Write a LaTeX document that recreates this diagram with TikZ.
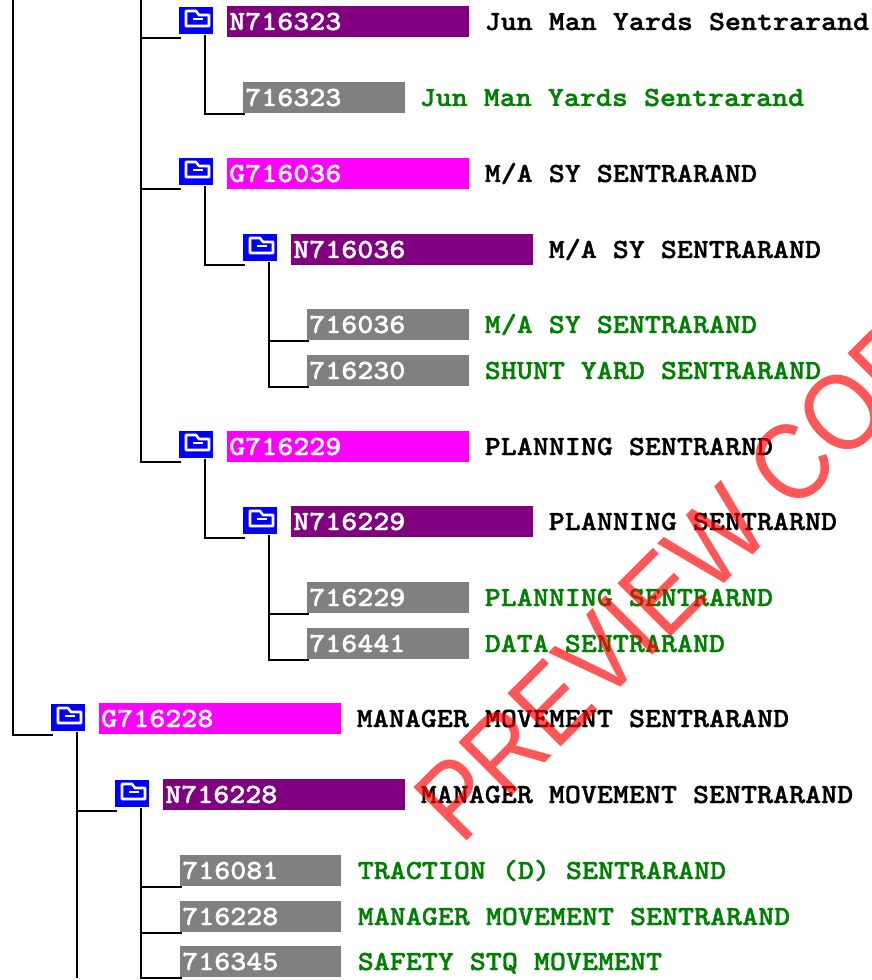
\documentclass[tikz,border=0pt]{standalone}
\usepackage{fontspec}
\setmainfont{Liberation Sans}
\newfontfamily\labelfont{lmmonolt10-bold.otf}[FakeStretch=1.1,FakeBold=1.2]
\definecolor{pur}{HTML}{800080}
\definecolor{mag}{HTML}{FF00FF}
\definecolor{gre}{HTML}{808080}
\definecolor{grn}{HTML}{008000}
\definecolor{blu}{HTML}{0000FF}
\tikzset{
  x=0.75pt,y=-0.75pt,
  barbox/.style={anchor=north west,inner sep=0pt,outer sep=0pt,minimum height=23.25pt,draw=none},
  idtext/.style={anchor=base west,inner sep=0pt,text=white,font=\labelfont\fontsize{20.8}{24}\selectfont},
  nametext/.style={anchor=base west,inner sep=0pt,font=\labelfont\fontsize{20.8}{24}\selectfont},
  conn/.style={draw=black,line width=1.5pt,line cap=rect},
  iconbox/.style={anchor=north west,fill=blu,inner sep=0pt,outer sep=0pt,minimum width=25.5pt,minimum height=20.25pt},
}
% name, x, y(top), width px, colour, id text, name colour, name x, name text
\newcommand{\rowbar}[9]{%
  \node[barbox,fill=#5,minimum width=#4*0.75pt] (#1) at (#2,#3) {};
  \node[idtext] (#1t) at (#2+2,#3+24) {#6};
  \node[nametext,text=#7] (#1n) at (#8-0.5,#3+24) {#9};
}
\newcommand{\fold}[3]{%
  \node[iconbox] (#1) at (#2,#3) {};
  \begin{scope}[shift={(#2,#3)}]
    \draw[white,line width=1.9pt,line join=round] (7,17) -- (7,4) -- (17,4) -- (20,8) -- (30,8) -- (30,19) -- (7,19) -- cycle;
    \draw[white,line width=2pt] (14,12) -- (24,12);
  \end{scope}
}
\newcommand{\vstart}[1]{([xshift=6.75pt,yshift=-1.5pt]#1.south)}
\newcommand{\stubF}[1]{([xshift=0.75pt,yshift=-3pt]#1.south west)}
\newcommand{\stubB}[1]{([xshift=0.75pt,yshift=-0.75pt]#1.south west)}
\begin{document}
\begin{tikzpicture}
\useasboundingbox (0,0) rectangle (871,980);
\fill[white] (0,0) rectangle (871,980);
\coordinate (top0) at (13,0);
\coordinate (top1) at (141,0);
\coordinate (bot77) at (77,977);

\fold{f1}{179}{7}
\rowbar{a1}{227}{6}{242}{pur}{N716323}{black}{485}{Jun Man Yards Sentrarand}
\rowbar{a2}{243}{82}{162}{gre}{716323}{grn}{420}{Jun Man Yards Sentrarand}
\fold{f2}{179}{158}
\rowbar{b1}{227}{158}{242}{mag}{G716036}{black}{485}{M/A SY SENTRARAND}
\fold{f3}{243}{234}
\rowbar{b2}{291}{234}{242}{pur}{N716036}{black}{549}{M/A SY SENTRARAND}
\rowbar{b3}{307}{309}{162}{gre}{716036}{grn}{485}{M/A SY SENTRARAND}
\rowbar{b4}{307}{355}{162}{gre}{716230}{grn}{485}{SHUNT YARD SENTRARAND}
\fold{f4}{179}{431}
\rowbar{c1}{227}{431}{242}{mag}{G716229}{black}{485}{PLANNING SENTRARND}
\fold{f5}{243}{507}
\rowbar{c2}{291}{506}{242}{pur}{N716229}{black}{549}{PLANNING SENTRARND}
\rowbar{c3}{307}{582}{162}{gre}{716229}{grn}{485}{PLANNING SENTRARND}
\rowbar{c4}{307}{628}{162}{gre}{716441}{grn}{485}{DATA SENTRARAND}
\fold{f6}{51}{704}
\rowbar{d1}{99}{703}{242}{mag}{G716228}{black}{357}{MANAGER MOVEMENT SENTRARAND}
\fold{f7}{115}{780}
\rowbar{d2}{163}{779}{242}{pur}{N716228}{black}{421}{MANAGER MOVEMENT SENTRARAND}
\rowbar{d3}{180}{855}{161}{gre}{716081}{grn}{358}{TRACTION (D) SENTRARAND}
\rowbar{d4}{180}{901}{161}{gre}{716228}{grn}{358}{MANAGER MOVEMENT SENTRARAND}
\rowbar{d5}{180}{946}{161}{gre}{716345}{grn}{358}{SAFETY STQ MOVEMENT}

% connectors
\draw[conn] (top0) |- \stubF{f6};
\draw[conn] (top1) |- \stubF{f1};
\draw[conn] (top1) |- \stubF{f2};
\draw[conn] (top1) |- \stubF{f4};
\draw[conn] \vstart{f1} |- \stubB{a2};
\draw[conn] \vstart{f2} |- \stubF{f3};
\draw[conn] \vstart{f3} |- \stubB{b3};
\draw[conn] \vstart{f3} |- \stubB{b4};
\draw[conn] \vstart{f4} |- \stubF{f5};
\draw[conn] \vstart{f5} |- \stubB{c3};
\draw[conn] \vstart{f5} |- \stubB{c4};
\draw[conn] \vstart{f6} -- (bot77);
\draw[conn] (bot77 |- 0,811) -- \stubF{f7};
\draw[conn] \vstart{f7} |- \stubB{d3};
\draw[conn] \vstart{f7} |- \stubB{d4};
\draw[conn] \vstart{f7} |- \stubB{d5};

% watermark
\node[anchor=base west,inner sep=0pt,rotate=45,text=red,opacity=0.66,font=\fontsize{82}{86}\selectfont] (wm) at (461,847) {\scalebox{0.88}[1]{PREVIEW COPY}};
\end{tikzpicture}
\end{document}
